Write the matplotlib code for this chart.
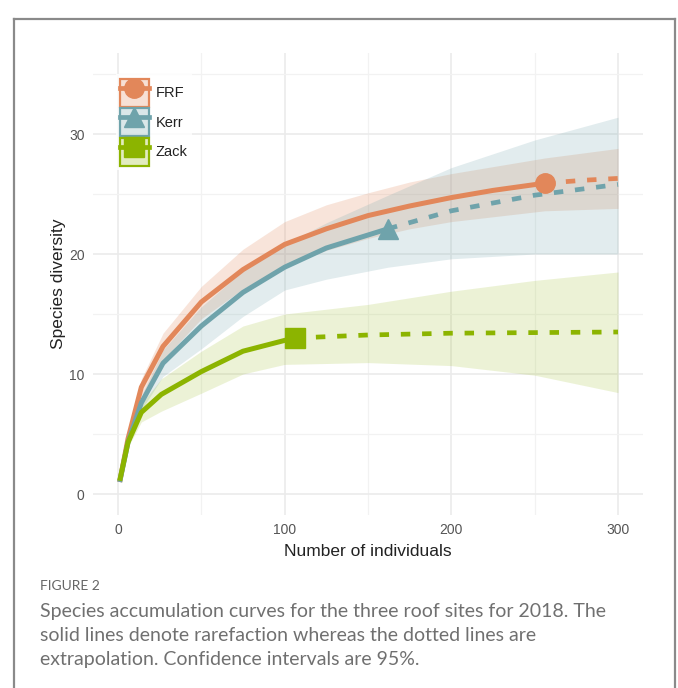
import matplotlib.pyplot as plt
from matplotlib.lines import Line2D
from matplotlib.patches import Patch
from matplotlib.colors import to_rgba
from matplotlib.ticker import MultipleLocator

plt.rcParams['font.family'] = ['Liberation Sans', 'DejaVu Sans']

sites = ['FRF', 'Kerr', 'Zack']
colors = ['#E2875A', '#6FA3AB', '#8CB400']
band_alpha = [0.22, 0.2, 0.16]
markers = ['o', '^', 's']

# rarefied (observed) part of each curve
frf_x = [1, 6, 14, 27, 50, 75, 100, 125, 150, 175, 200, 225, 256]
frf_y = [1.0, 4.6, 8.9, 12.3, 16.0, 18.7, 20.8, 22.1, 23.2, 24.0, 24.7, 25.3, 25.9]
kerr_x = [1, 6, 14, 27, 50, 75, 100, 125, 162]
kerr_y = [1.0, 4.3, 7.6, 10.9, 14.0, 16.8, 18.9, 20.5, 22.1]
zack_x = [1, 6, 14, 26, 50, 75, 100, 106]
zack_y = [1.1, 4.3, 6.8, 8.3, 10.2, 11.9, 12.8, 13.0]

# extrapolated part
frf_ex = [256, 280, 300]
frf_ey = [25.9, 26.15, 26.3]
kerr_ex = [162, 200, 250, 300]
kerr_ey = [22.1, 23.6, 24.9, 25.8]
zack_ex = [106, 150, 200, 250, 300]
zack_ey = [13.0, 13.25, 13.4, 13.45, 13.5]

# 95% confidence bands
frf_cx = [1, 6, 14, 27, 50, 75, 100, 125, 150, 175, 200, 256, 300]
frf_lo = [1.0, 4.3, 8.2, 11.2, 14.6, 17.1, 19.0, 20.3, 21.3, 22.1, 22.7, 23.6, 23.8]
frf_hi = [1.0, 4.9, 9.6, 13.4, 17.3, 20.4, 22.7, 24.1, 25.1, 26.0, 26.7, 28.0, 28.8]
kerr_cx = [1, 6, 14, 27, 50, 75, 100, 125, 162, 200, 250, 300]
kerr_lo = [1.0, 4.0, 7.0, 9.8, 12.1, 14.8, 17.0, 17.9, 18.9, 19.6, 20.0, 20.0]
kerr_hi = [1.0, 4.6, 8.2, 12.0, 15.6, 18.6, 20.8, 22.6, 24.9, 27.2, 29.5, 31.4]
zack_cx = [1, 6, 14, 26, 50, 75, 100, 150, 200, 250, 300]
zack_lo = [1.0, 3.9, 6.0, 6.9, 8.4, 10.0, 10.8, 10.95, 10.7, 9.9, 8.45]
zack_hi = [1.2, 4.7, 7.5, 9.6, 11.9, 14.0, 15.0, 15.8, 16.9, 17.8, 18.5]

obs = [(frf_x, frf_y), (kerr_x, kerr_y), (zack_x, zack_y)]
ext = [(frf_ex, frf_ey), (kerr_ex, kerr_ey), (zack_ex, zack_ey)]
bands = [(frf_cx, frf_lo, frf_hi), (kerr_cx, kerr_lo, kerr_hi), (zack_cx, zack_lo, zack_hi)]

fig = plt.figure(figsize=(6.78, 6.88), dpi=100)
ax = fig.add_axes([93 / 678, 1 - 515 / 688, 550 / 678, 462 / 688])

for (cx, lo, hi), c, a in zip(bands, colors, band_alpha):
    ax.fill_between(cx, lo, hi, color=c, alpha=a, lw=0)

for (ex, ey), c in zip(ext, colors):
    ax.plot(ex, ey, color=c, lw=3.4, ls=(0, (2.0, 2.5)), dash_capstyle='butt')

for (ox, oy), c, m in zip(obs, colors, markers):
    ax.plot(ox, oy, color=c, lw=3.6, solid_capstyle='butt')
    ax.plot(ox[-1], oy[-1], marker=m, ms=14, color=c, mec=c)

ax.set_xlim(-15, 315)
ax.set_ylim(-1.75, 36.75)
ax.xaxis.set_major_locator(MultipleLocator(100))
ax.xaxis.set_minor_locator(MultipleLocator(50))
ax.yaxis.set_major_locator(MultipleLocator(10))
ax.yaxis.set_minor_locator(MultipleLocator(5))
ax.grid(which='major', color='#ebebeb', lw=1.2)
ax.grid(which='minor', color='#f2f2f2', lw=0.9)
ax.set_axisbelow(True)
for s in ax.spines.values():
    s.set_visible(False)
ax.tick_params(which='both', length=0, labelsize=10, labelcolor='#555555')
ax.tick_params(axis='x', pad=6)
ax.tick_params(axis='y', pad=6)
ax.set_xlabel('Number of individuals', fontsize=12.5, color='#222222', labelpad=5)
ax.set_ylabel('Species diversity', fontsize=12.5, color='#222222', labelpad=2)

handles = []
for c, m in zip(colors, markers):
    box = Patch(facecolor=to_rgba(c, 0.25), edgecolor=c, lw=1.6)
    ln = Line2D([], [], color=c, lw=3.4, marker=m, ms=14, mec=c)
    handles.append((box, ln))
leg = ax.legend(handles, sites, loc='upper left', bbox_to_anchor=(0.028, 0.97),
                fontsize=10.5, handlelength=1.95, handleheight=2.6, labelspacing=0.1,
                handletextpad=0.5, borderpad=0.3, frameon=True, fancybox=False)
leg.get_frame().set_facecolor('white')
leg.get_frame().set_edgecolor('none')
for t in leg.get_texts():
    t.set_color('#222222')

# outer frame around figure and caption
fc = '#8a8a8a'
fig.add_artist(Line2D([14 / 678, 14 / 678], [0, 1 - 19 / 688], color=fc, lw=1.6))
fig.add_artist(Line2D([675 / 678, 675 / 678], [0, 1 - 19 / 688], color=fc, lw=1.6))
fig.add_artist(Line2D([14 / 678, 675 / 678], [1 - 19 / 688, 1 - 19 / 688], color=fc, lw=1.6))

cap_font = ['Lato', 'DejaVu Sans']
fig.text(40 / 678, 1 - 586 / 688, 'FIGURE 2', fontsize=10, color='#666666',
         family=cap_font, va='center', ha='left')
caption = ['Species accumulation curves for the three roof sites for 2018. The',
           'solid lines denote rarefaction whereas the dotted lines are',
           'extrapolation. Confidence intervals are 95%.']
for i, line in enumerate(caption):
    fig.text(40 / 678, 1 - (611 + 24.5 * i) / 688, line, fontsize=14.0, color='#707070',
             family=cap_font, va='center', ha='left')

fig.savefig('out.png', dpi=100)
